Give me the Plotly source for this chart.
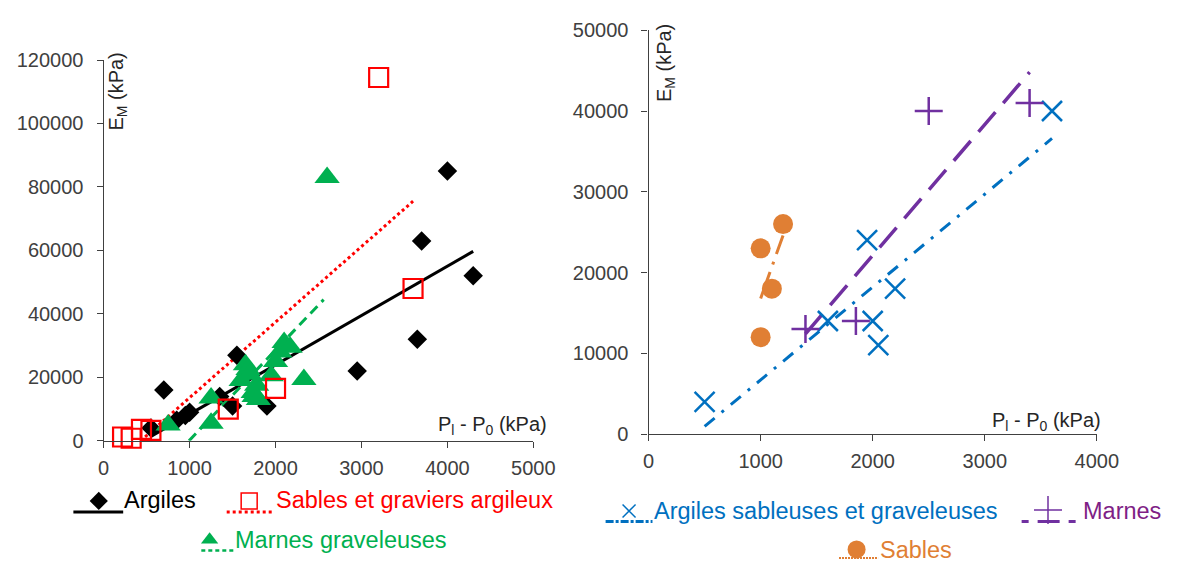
import plotly.graph_objects as go

W, H = 1195, 572
FONT = "Liberation Sans, Arial, sans-serif"

# ---------------- Data (left chart) ----------------
argiles_x = [550, 700, 850, 950, 1000, 1350, 1500, 1550, 1900, 2950, 3650, 3700, 4000, 4300]
argiles_y = [4000, 16000, 6500, 8000, 9000, 14000, 11000, 27000, 11000, 22000, 32000, 63000, 85000, 52000]

sables_x = [220, 320, 440, 550, 1450, 2000, 3200, 3600]
sables_y = [1200, 800, 3600, 3300, 10000, 16500, 114500, 48000]

marnes_g_x = [750, 1250, 1250, 1600, 1650, 1680, 1700, 1740, 1750, 1780, 1800, 1950, 2000, 2050, 2100, 2170, 2330, 2600]
marnes_g_y = [5000, 5500, 13500, 19000, 24000, 22500, 21000, 15200, 14000, 17500, 13000, 20500, 25000, 28000, 31000, 29500, 19300, 83000]

argiles_fit_x = [550, 4300]
argiles_fit_y = [1400, 59700]
sables_fit_x = [430, 3600]
sables_fit_y = [0, 75500]
marnes_g_fit_x = [993, 2560]
marnes_g_fit_y = [0, 44500]

# ---------------- Data (right chart) ----------------
asg_x = [500, 1600, 1950, 2000, 2050, 2200, 3600]
asg_y = [4000, 14000, 24000, 14000, 11000, 18000, 40000]
marnes_x = [1400, 1850, 2500, 3400]
marnes_y = [13000, 14000, 40000, 41000]
sables_r_x = [1000, 1100, 1000, 1200]
sables_r_y = [23000, 18000, 12000, 26000]

asg_fit_x = [500, 3600]
asg_fit_y = [950, 36600]
marnes_fit_x = [1400, 3400]
marnes_fit_y = [12400, 44800]
sables_r_fit_x = [1000, 1200]
sables_r_fit_y = [16800, 24600]

left_xticks = [0, 1000, 2000, 3000, 4000, 5000]
left_yticks = [0, 20000, 40000, 60000, 80000, 100000, 120000]
right_xticks = [0, 1000, 2000, 3000, 4000]
right_yticks = [0, 10000, 20000, 30000, 40000, 50000]

BLACK = "#000000"
RED = "#FF0000"
GREEN = "#00B050"
BLUE = "#0070C0"
PURPLE = "#7030A0"
PURPLE_TXT = "#7F1F86"
ORANGE = "#E07F34"
AXC = "#404040"


def px(x):
    return x / W


def py(y):
    return 1 - y / H


fig = go.Figure()

# ---- left chart: trend lines ----
fig.add_trace(go.Scatter(x=argiles_fit_x, y=argiles_fit_y, mode="lines",
                         line=dict(color=BLACK, width=3), xaxis="x", yaxis="y", showlegend=False))
fig.add_trace(go.Scatter(x=sables_fit_x, y=sables_fit_y, mode="lines",
                         line=dict(color=RED, width=3, dash="3px,3px"), xaxis="x", yaxis="y", showlegend=False))
fig.add_trace(go.Scatter(x=marnes_g_fit_x, y=marnes_g_fit_y, mode="lines",
                         line=dict(color=GREEN, width=3, dash="10px,6px"), xaxis="x", yaxis="y", showlegend=False))
# ---- left chart: points ----
fig.add_trace(go.Scatter(x=argiles_x, y=argiles_y, mode="markers", cliponaxis=False,
                         marker=dict(symbol="diamond", size=15, color=BLACK, line=dict(width=0)),
                         xaxis="x", yaxis="y", showlegend=False))
fig.add_trace(go.Scatter(x=marnes_g_x, y=marnes_g_y, mode="markers", cliponaxis=False,
                         marker=dict(symbol="triangle-up", size=22, color=GREEN, line=dict(width=0)),
                         xaxis="x", yaxis="y", showlegend=False))
fig.add_trace(go.Scatter(x=sables_x, y=sables_y, mode="markers", cliponaxis=False,
                         marker=dict(symbol="square-open", size=19, color=RED, line=dict(width=2.2, color=RED)),
                         xaxis="x", yaxis="y", showlegend=False))

# ---- right chart: trend lines ----
fig.add_trace(go.Scatter(x=asg_fit_x, y=asg_fit_y, mode="lines",
                         line=dict(color=BLUE, width=3, dash="13px,9px,3px,9px"), xaxis="x2", yaxis="y2", showlegend=False))
fig.add_trace(go.Scatter(x=marnes_fit_x, y=marnes_fit_y, mode="lines",
                         line=dict(color=PURPLE, width=3.5, dash="26px,12px"), xaxis="x2", yaxis="y2", showlegend=False))
fig.add_trace(go.Scatter(x=sables_r_fit_x, y=sables_r_fit_y, mode="lines",
                         line=dict(color=ORANGE, width=3, dash="28px,8px,3px,8px"), xaxis="x2", yaxis="y2", showlegend=False))
# ---- right chart: points ----
fig.add_trace(go.Scatter(x=asg_x, y=asg_y, mode="markers", cliponaxis=False,
                         marker=dict(symbol="x-thin-open", size=20, color=BLUE, line=dict(width=2.5, color=BLUE)),
                         xaxis="x2", yaxis="y2", showlegend=False))
fig.add_trace(go.Scatter(x=marnes_x, y=marnes_y, mode="markers", cliponaxis=False,
                         marker=dict(symbol="cross-thin-open", size=20, color=PURPLE, line=dict(width=2.5, color=PURPLE)),
                         xaxis="x2", yaxis="y2", showlegend=False))
fig.add_trace(go.Scatter(x=sables_r_x, y=sables_r_y, mode="markers", cliponaxis=False,
                         marker=dict(symbol="circle", size=20, color=ORANGE, line=dict(width=0)),
                         xaxis="x2", yaxis="y2", showlegend=False))


# ---------------- custom legends (full-page pixel overlay axis) ----------------
def leg_line(x0, x1, y, color, dash, width=3):
    fig.add_trace(go.Scatter(x=[x0, x1], y=[y, y], mode="lines", line=dict(color=color, width=width, dash=dash),
                             xaxis="x3", yaxis="y3", showlegend=False, hoverinfo="skip"))


def leg_marker(x, y, symbol, size, color, lw=0):
    fig.add_trace(go.Scatter(x=[x], y=[y], mode="markers", cliponaxis=False,
                             marker=dict(symbol=symbol, size=size, color=color, line=dict(width=lw, color=color)),
                             xaxis="x3", yaxis="y3", showlegend=False, hoverinfo="skip"))


def leg_text(x, y, text, color):
    fig.add_annotation(x=px(x), y=py(y), xref="paper", yref="paper", text=text, showarrow=False,
                       xanchor="left", yanchor="middle", font=dict(family=FONT, size=23.5, color=color))


# left legend
leg_line(69, 120, 521, BLACK, "solid")
leg_marker(95, 509.5, "diamond", 14, BLACK)
leg_text(119, 509, "Argiles", BLACK)

leg_line(226, 275, 521, RED, "3px,3px")
leg_marker(249, 509.5, "square-open", 16, RED, 1.5)
leg_text(274, 509, "Sables et graviers argileux", RED)

leg_line(200, 233, 561, GREEN, "4px,3px", 2.5)
leg_marker(208.5, 550, "triangle-up", 15, GREEN)
leg_text(232, 550, "Marnes graveleuses", GREEN)

# right legend
leg_line(614, 662, 531, BLUE, "8px,2px,3px,2px")
leg_marker(638, 520, "x-thin-open", 13, BLUE, 1.5)
leg_text(661, 520, "Argiles sableuses et graveleuses", BLUE)

leg_line(1040, 1102, 531, PURPLE, "7px,9px,22px,9px", 3)
leg_marker(1067, 519, "cross-thin-open", 20, PURPLE, 1.5)
leg_text(1101, 520, "Marnes", PURPLE_TXT)

leg_line(853, 893, 569, ORANGE, "2px,1px", 2)
leg_marker(871, 560, "circle", 18, ORANGE)
leg_text(893, 561, "Sables", ORANGE)

# ---------------- axis titles ----------------
tfont = dict(family=FONT, size=20, color="#262626")
fig.add_annotation(x=px(114.5), y=py(84), xref="paper", yref="paper", text="E<sub>M</sub> (kPa)", textangle=-90,
                   showarrow=False, xanchor="center", yanchor="middle", font=tfont)
fig.add_annotation(x=px(556), y=py(446), xref="paper", yref="paper", text="P<sub>l</sub> - P<sub>0</sub> (kPa)",
                   showarrow=False, xanchor="right", yanchor="bottom", font=tfont)
fig.add_annotation(x=px(676), y=py(54), xref="paper", yref="paper", text="E<sub>M</sub> (kPa)", textangle=-90,
                   showarrow=False, xanchor="center", yanchor="middle", font=tfont)
fig.add_annotation(x=px(1123), y=py(442), xref="paper", yref="paper", text="P<sub>l</sub> - P<sub>0</sub> (kPa)",
                   showarrow=False, xanchor="right", yanchor="bottom", font=tfont)

tickfont = dict(family=FONT, size=20, color=AXC)
common = dict(showgrid=False, zeroline=False, showline=True, linecolor=AXC, linewidth=1.3,
              ticks="outside", ticklen=6, tickcolor=AXC, tickwidth=1.3, tickfont=tickfont, fixedrange=True)

fig.update_layout(
    width=W, height=H, margin=dict(l=0, r=0, t=0, b=0),
    paper_bgcolor="white", plot_bgcolor="rgba(0,0,0,0)", showlegend=False,
    xaxis=dict(domain=[px(100), px(540)], range=[0, 5000], tickvals=left_xticks,
               ticktext=[str(v) for v in left_xticks], anchor="y", ticklabelstandoff=3, **common),
    yaxis=dict(domain=[py(447), py(51)], range=[0, 120000], tickvals=left_yticks,
               ticktext=[str(v) for v in left_yticks], anchor="x", ticklabelstandoff=9, **common),
    xaxis2=dict(domain=[px(658), px(1117)], range=[0, 4000], tickvals=right_xticks,
                ticktext=[str(v) for v in right_xticks], anchor="y2", ticklabelstandoff=3, **common),
    yaxis2=dict(domain=[py(440), py(20)], range=[0, 50000], tickvals=right_yticks,
                ticktext=[str(v) for v in right_yticks], anchor="x2", ticklabelstandoff=9, **common),
    xaxis3=dict(domain=[0, 1], range=[0, W], visible=False, fixedrange=True, anchor="y3"),
    yaxis3=dict(domain=[0, 1], range=[H, 0], visible=False, fixedrange=True, anchor="x3"),
)

fig.write_html("out.html", config={"displayModeBar": False})
